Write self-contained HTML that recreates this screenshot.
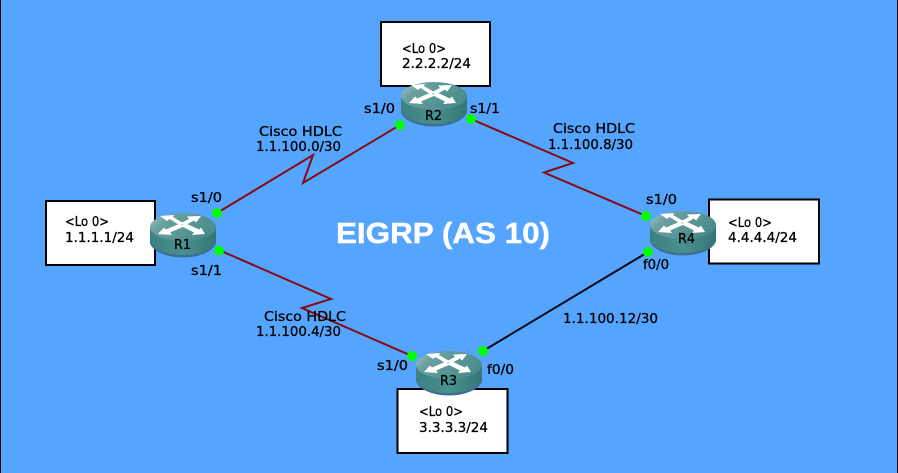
<!DOCTYPE html>
<html><head><meta charset="utf-8"><style>
html,body{margin:0;padding:0;background:#55a5ff}
svg{display:block}
.t{font-family:"DejaVu Sans",sans-serif;font-size:13.5px;fill:#000;stroke:#000;stroke-width:.3}
</style></head><body>
<svg width="898" height="473" viewBox="0 0 898 473" xmlns="http://www.w3.org/2000/svg">
<defs>
<linearGradient id="top" x1="0" y1="0" x2="1" y2=".5"><stop offset="0" stop-color="#a9c9c9"/><stop offset=".3" stop-color="#6aa0a0"/><stop offset="1" stop-color="#4a8c8c"/></linearGradient>
<linearGradient id="side" x1="0" y1="0" x2="1" y2="0"><stop offset="0" stop-color="#3c8080"/><stop offset=".5" stop-color="#4a9090"/><stop offset="1" stop-color="#357575"/></linearGradient>
<g id="router">
<path d="M0 15V30C2 38 16 44.500 33 44.500S64 38 66 30V15Z" fill="#3d6f95"/>
<path d="M0 14V28C2 36 16 42 33 42S64 36 66 28V14Z" fill="url(#side)"/>
<ellipse cx="33" cy="14" rx="33" ry="14" fill="url(#top)"/>
<g fill="#fff">
<path d="M10 3L24 2L23 4L34 10.500L30 12.500L19.500 6L17 8Z"/>
<path d="M51 3L37 3.500L39 6L30 10.500L35 12.500L44 7.500L46 9.500Z"/>
<path d="M8 21L22 22L20 19.500L34 13.500L29 11L16 16.500L14 14.500Z"/>
<path d="M55 21L42 22L44 19.500L31 13L36 10.500L49 16.500L51 14.500Z"/>
</g>
</g>
</defs>
<rect width="898" height="473" fill="#55a5ff"/>
<rect x="0" y="0" width="1" height="473" fill="#000"/>
<rect x="897" y="0" width="1" height="473" fill="#000"/>

<g fill="none" stroke="#860a14" stroke-width="2">
<polyline points="217,213 313,155 303,183 400,125"/>
<polyline points="471,119 573,163 544,172.500 646,216"/>
<polyline points="219,250 331,299 302,308 412,356"/>
</g>
<line x1="483" y1="351" x2="648" y2="252" stroke="#0a0a1e" stroke-width="2"/>

<g fill="#fff" stroke="#000" stroke-width="2">
<rect x="381" y="22" width="109" height="64"/>
<rect x="46" y="201" width="109" height="64"/>
<rect x="709" y="199.500" width="110" height="64"/>
<rect x="397.500" y="389" width="110" height="64"/>
</g>

<use href="#router" x="401" y="82"/>
<use href="#router" x="150" y="213"/>
<use href="#router" x="650" y="211"/>
<use href="#router" x="416" y="351"/>

<g fill="#0f0">
<circle cx="400" cy="125" r="5"/><circle cx="471" cy="119" r="5"/>
<circle cx="217" cy="213" r="5"/><circle cx="219" cy="250.500" r="5"/>
<circle cx="646" cy="216" r="5"/><circle cx="648" cy="252" r="5"/>
<circle cx="412" cy="356" r="5"/><circle cx="483" cy="351" r="5"/>
</g>

<g>
<text class="t" x="425" y="120" textLength="17" lengthAdjust="spacingAndGlyphs">R2</text>
<text class="t" x="174" y="249" textLength="17" lengthAdjust="spacingAndGlyphs">R1</text>
<text class="t" x="678" y="243" textLength="17" lengthAdjust="spacingAndGlyphs">R4</text>
<text class="t" x="440" y="385" textLength="17" lengthAdjust="spacingAndGlyphs">R3</text>

<text class="t" x="402" y="53" textLength="44" lengthAdjust="spacingAndGlyphs">&lt;Lo 0&gt;</text>
<text class="t" x="402" y="68" textLength="69" lengthAdjust="spacingAndGlyphs">2.2.2.2/24</text>
<text class="t" x="65" y="226" textLength="44" lengthAdjust="spacingAndGlyphs">&lt;Lo 0&gt;</text>
<text class="t" x="65" y="242" textLength="69" lengthAdjust="spacingAndGlyphs">1.1.1.1/24</text>
<text class="t" x="728" y="227" textLength="44" lengthAdjust="spacingAndGlyphs">&lt;Lo 0&gt;</text>
<text class="t" x="728" y="242" textLength="69" lengthAdjust="spacingAndGlyphs">4.4.4.4/24</text>
<text class="t" x="419" y="416" textLength="44" lengthAdjust="spacingAndGlyphs">&lt;Lo 0&gt;</text>
<text class="t" x="419" y="432" textLength="69" lengthAdjust="spacingAndGlyphs">3.3.3.3/24</text>

<text class="t" x="259" y="136" textLength="83" lengthAdjust="spacingAndGlyphs">Cisco HDLC</text>
<text class="t" x="256" y="151" textLength="85" lengthAdjust="spacingAndGlyphs">1.1.100.0/30</text>
<text class="t" x="553" y="133" textLength="82" lengthAdjust="spacingAndGlyphs">Cisco HDLC</text>
<text class="t" x="548" y="149" textLength="85" lengthAdjust="spacingAndGlyphs">1.1.100.8/30</text>
<text class="t" x="264" y="321" textLength="82" lengthAdjust="spacingAndGlyphs">Cisco HDLC</text>
<text class="t" x="256" y="336" textLength="85" lengthAdjust="spacingAndGlyphs">1.1.100.4/30</text>
<text class="t" x="563" y="323" textLength="95" lengthAdjust="spacingAndGlyphs">1.1.100.12/30</text>

<text class="t" x="364" y="113" textLength="31" lengthAdjust="spacingAndGlyphs">s1/0</text>
<text class="t" x="470" y="113" textLength="30" lengthAdjust="spacingAndGlyphs">s1/1</text>
<text class="t" x="191" y="202" textLength="31" lengthAdjust="spacingAndGlyphs">s1/0</text>
<text class="t" x="191" y="275" textLength="31" lengthAdjust="spacingAndGlyphs">s1/1</text>
<text class="t" x="646" y="204" textLength="31" lengthAdjust="spacingAndGlyphs">s1/0</text>
<text class="t" x="643" y="269" textLength="26" lengthAdjust="spacingAndGlyphs">f0/0</text>
<text class="t" x="377" y="370" textLength="31" lengthAdjust="spacingAndGlyphs">s1/0</text>
<text class="t" x="487" y="374" textLength="27" lengthAdjust="spacingAndGlyphs">f0/0</text>
</g>

<text x="336" y="243" font-family="'Liberation Sans',sans-serif" font-weight="bold" font-size="29" fill="#fff" stroke="#fff" stroke-width=".4" textLength="214" lengthAdjust="spacingAndGlyphs">EIGRP (AS 10)</text>
</svg>
</body></html>
